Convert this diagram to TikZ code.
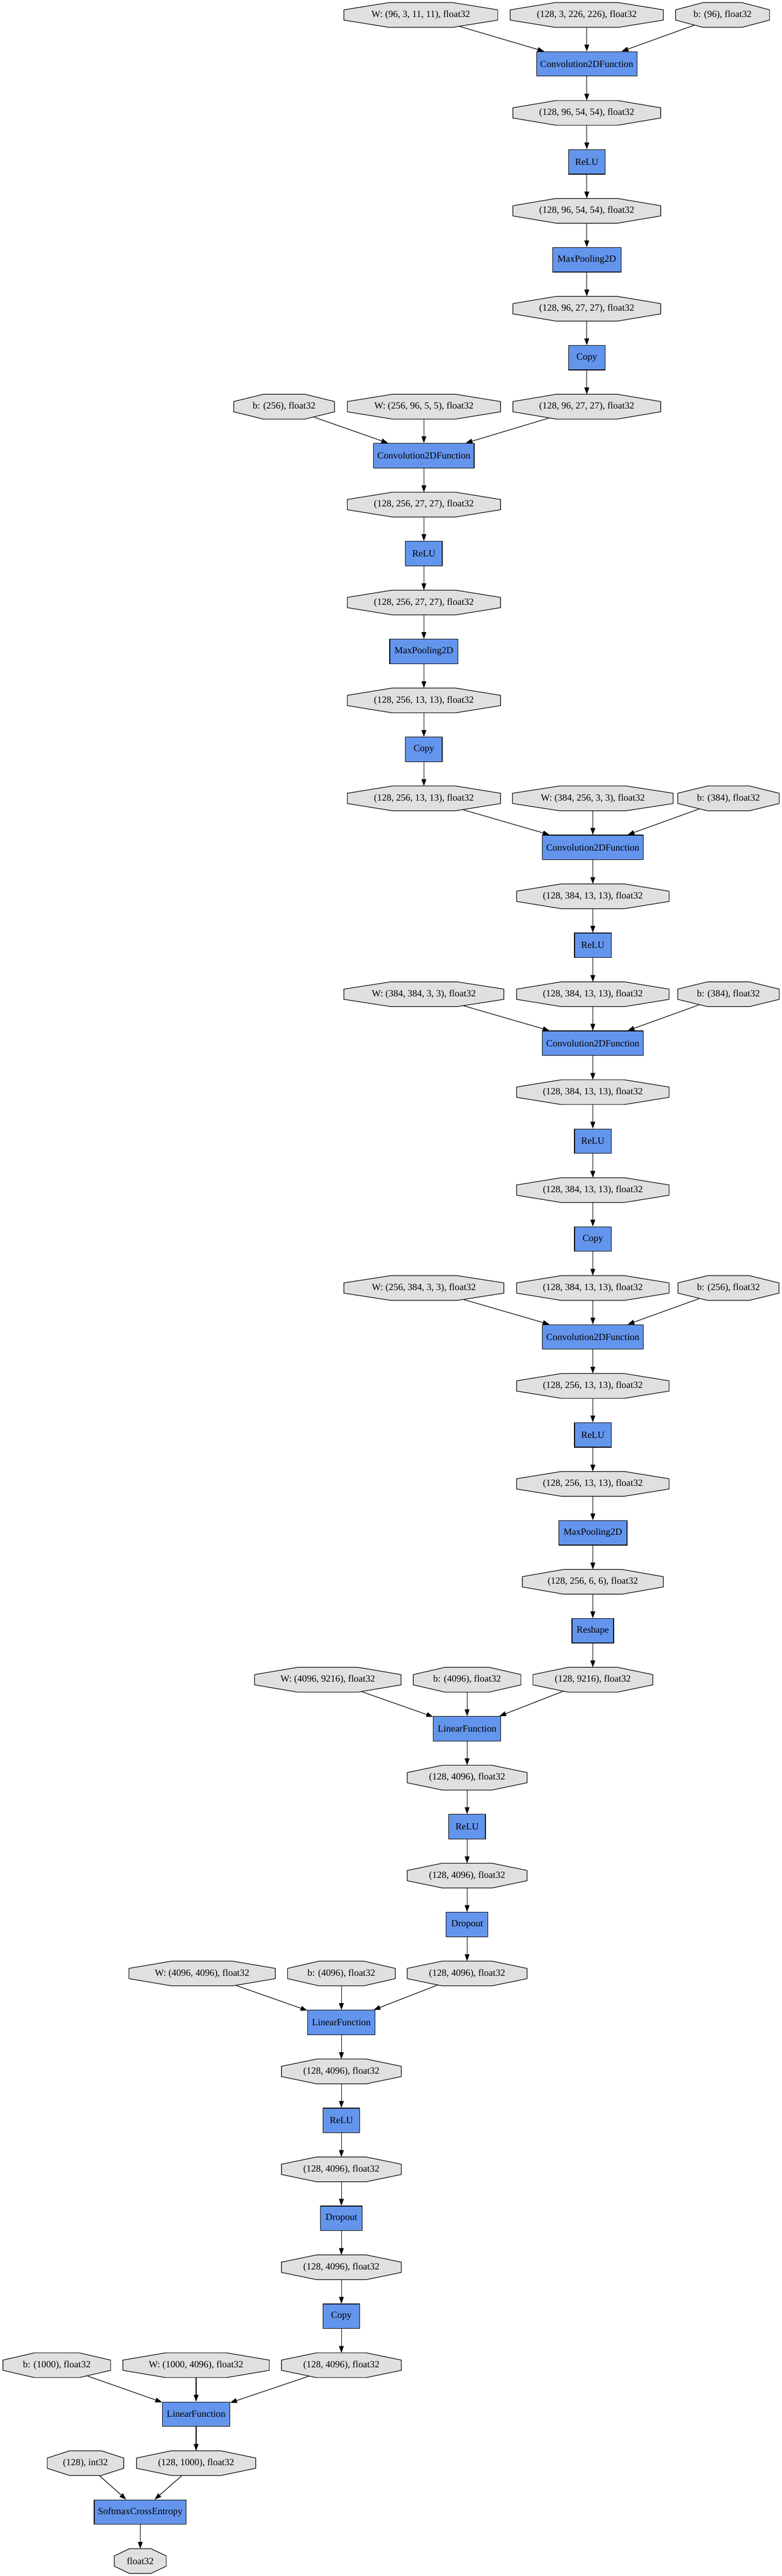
\documentclass[tikz,border=0pt]{standalone}
\usepackage{fontspec}
\setmainfont{Liberation Serif}
\usetikzlibrary{arrows.meta,calc}
\pgfdeclarelayer{edges}
\pgfdeclarelayer{octs}
\pgfsetlayers{edges,octs,main}
\definecolor{varfill}{HTML}{E0E0E0}
\definecolor{funfill}{HTML}{6495ED}
\newcommand\Ry[1]{\the\numexpr 22+72*(#1-1)\relax}
\tikzset{
  vt/.style={rectangle, inner sep=0pt, minimum height=36pt, font=\fontsize{14}{16}\selectfont},
  fn/.style={rectangle, draw=black, line width=0.9pt, fill=funfill, inner sep=0pt, minimum height=36pt, font=\fontsize{14}{16}\selectfont},
  octshape/.style={draw=black, line width=0.9pt, fill=varfill},
  arr/.style={draw=black, line width=0.9pt, -{Triangle[length=10pt,width=7pt]}}
}
\begin{document}
\begin{tikzpicture}[x=1pt,y=-1pt]
\useasboundingbox (0,0) rectangle (1150.6,3788);
% rank 1-8
\node[vt, minimum width=226pt] (w1) at (619.3,\Ry{1}) {W: (96, 3, 11, 11), float32};
\node[vt, minimum width=225pt] (x0) at (863.5,\Ry{1}) {(128, 3, 226, 226), float32};
\node[vt, minimum width=138pt] (b1) at (1063.3,\Ry{1}) {b: (96), float32};
\node[fn, minimum width=148pt] (c1) at (863.5,\Ry{2}) {Convolution2DFunction};
\node[vt, minimum width=217pt] (v1) at (863.5,\Ry{3}) {(128, 96, 54, 54), float32};
\node[fn, minimum width=54pt] (r1) at (863.5,\Ry{4}) {ReLU};
\node[vt, minimum width=217pt] (v2) at (863.5,\Ry{5}) {(128, 96, 54, 54), float32};
\node[fn, minimum width=100.6pt] (m1) at (863.5,\Ry{6}) {MaxPooling2D};
\node[vt, minimum width=217pt] (v3) at (863.5,\Ry{7}) {(128, 96, 27, 27), float32};
\node[fn, minimum width=54pt] (k1) at (863.5,\Ry{8}) {Copy};
% rank 9-16
\node[vt, minimum width=148pt] (b2) at (418.1,\Ry{9}) {b: (256), float32};
\node[vt, minimum width=225pt] (w2) at (623.8,\Ry{9}) {W: (256, 96, 5, 5), float32};
\node[vt, minimum width=217pt] (v4) at (863.5,\Ry{9}) {(128, 96, 27, 27), float32};
\node[fn, minimum width=148pt] (c2) at (623.8,\Ry{10}) {Convolution2DFunction};
\node[vt, minimum width=225pt] (v5) at (623.8,\Ry{11}) {(128, 256, 27, 27), float32};
\node[fn, minimum width=54pt] (r2) at (623.8,\Ry{12}) {ReLU};
\node[vt, minimum width=225pt] (v6) at (623.8,\Ry{13}) {(128, 256, 27, 27), float32};
\node[fn, minimum width=100.6pt] (m2) at (623.8,\Ry{14}) {MaxPooling2D};
\node[vt, minimum width=225pt] (v7) at (623.8,\Ry{15}) {(128, 256, 13, 13), float32};
\node[fn, minimum width=54pt] (k2) at (623.8,\Ry{16}) {Copy};
% rank 17-20
\node[vt, minimum width=225pt] (v8) at (623.8,\Ry{17}) {(128, 256, 13, 13), float32};
\node[vt, minimum width=236pt] (w3) at (872.4,\Ry{17}) {W: (384, 256, 3, 3), float32};
\node[vt, minimum width=149pt] (b3) at (1072,\Ry{17}) {b: (384), float32};
\node[fn, minimum width=148pt] (c3) at (872.4,\Ry{18}) {Convolution2DFunction};
\node[vt, minimum width=224pt] (v9) at (872.4,\Ry{19}) {(128, 384, 13, 13), float32};
\node[fn, minimum width=54pt] (r3) at (872.4,\Ry{20}) {ReLU};
% rank 21-26
\node[vt, minimum width=235pt] (w4) at (623.8,\Ry{21}) {W: (384, 384, 3, 3), float32};
\node[vt, minimum width=224pt] (v10) at (872.4,\Ry{21}) {(128, 384, 13, 13), float32};
\node[vt, minimum width=149pt] (b4) at (1072,\Ry{21}) {b: (384), float32};
\node[fn, minimum width=148pt] (c4) at (872.4,\Ry{22}) {Convolution2DFunction};
\node[vt, minimum width=224pt] (v11) at (872.4,\Ry{23}) {(128, 384, 13, 13), float32};
\node[fn, minimum width=54pt] (r4) at (872.4,\Ry{24}) {ReLU};
\node[vt, minimum width=224pt] (v12) at (872.4,\Ry{25}) {(128, 384, 13, 13), float32};
\node[fn, minimum width=54pt] (k3) at (872.4,\Ry{26}) {Copy};
% rank 27-34
\node[vt, minimum width=235pt] (w5) at (623.8,\Ry{27}) {W: (256, 384, 3, 3), float32};
\node[vt, minimum width=224pt] (v13) at (872.4,\Ry{27}) {(128, 384, 13, 13), float32};
\node[vt, minimum width=148pt] (b5) at (1072,\Ry{27}) {b: (256), float32};
\node[fn, minimum width=148pt] (c5) at (872.4,\Ry{28}) {Convolution2DFunction};
\node[vt, minimum width=224pt] (v14) at (872.4,\Ry{29}) {(128, 256, 13, 13), float32};
\node[fn, minimum width=54pt] (r5) at (872.4,\Ry{30}) {ReLU};
\node[vt, minimum width=224pt] (v15) at (872.4,\Ry{31}) {(128, 256, 13, 13), float32};
\node[fn, minimum width=100.6pt] (m3) at (872.4,\Ry{32}) {MaxPooling2D};
\node[vt, minimum width=207pt] (v16) at (872.4,\Ry{33}) {(128, 256, 6, 6), float32};
\node[fn, minimum width=61.4pt] (rs) at (872.4,\Ry{34}) {Reshape};
% rank 35-40
\node[vt, minimum width=215pt] (w6) at (482.4,\Ry{35}) {W: (4096, 9216), float32};
\node[vt, minimum width=158pt] (b6) at (687.4,\Ry{35}) {b: (4096), float32};
\node[vt, minimum width=176pt] (v17) at (872.4,\Ry{35}) {(128, 9216), float32};
\node[fn, minimum width=99.2pt] (l1) at (687.4,\Ry{36}) {LinearFunction};
\node[vt, minimum width=176pt] (v18) at (687.4,\Ry{37}) {(128, 4096), float32};
\node[fn, minimum width=54pt] (r6) at (687.4,\Ry{38}) {ReLU};
\node[vt, minimum width=176pt] (v19) at (687.4,\Ry{39}) {(128, 4096), float32};
\node[fn, minimum width=61.4pt] (d1) at (687.4,\Ry{40}) {Dropout};
% rank 41-48
\node[vt, minimum width=215pt] (w7) at (297.4,\Ry{41}) {W: (4096, 4096), float32};
\node[vt, minimum width=158pt] (b7) at (502.4,\Ry{41}) {b: (4096), float32};
\node[vt, minimum width=176pt] (v20) at (687.4,\Ry{41}) {(128, 4096), float32};
\node[fn, minimum width=99.2pt] (l2) at (502.4,\Ry{42}) {LinearFunction};
\node[vt, minimum width=176pt] (v21) at (502.4,\Ry{43}) {(128, 4096), float32};
\node[fn, minimum width=54pt] (r7) at (502.4,\Ry{44}) {ReLU};
\node[vt, minimum width=176pt] (v22) at (502.4,\Ry{45}) {(128, 4096), float32};
\node[fn, minimum width=61.4pt] (d2) at (502.4,\Ry{46}) {Dropout};
\node[vt, minimum width=176pt] (v23) at (502.4,\Ry{47}) {(128, 4096), float32};
\node[fn, minimum width=54pt] (k4) at (502.4,\Ry{48}) {Copy};
% rank 49-53
\node[vt, minimum width=158pt] (b8) at (83.6,\Ry{49}) {b: (1000), float32};
\node[vt, minimum width=215pt] (w8) at (288.6,\Ry{49}) {W: (1000, 4096), float32};
\node[vt, minimum width=176pt] (v24) at (502.4,\Ry{49}) {(128, 4096), float32};
\node[fn, minimum width=99.2pt] (l3) at (288.6,\Ry{50}) {LinearFunction};
\node[vt, minimum width=112pt] (t) at (125.8,\Ry{51}) {(128), int32};
\node[vt, minimum width=175pt] (v25) at (288.6,\Ry{51}) {(128, 1000), float32};
\node[fn, minimum width=135.4pt] (sce) at (206.4,\Ry{52}) {SoftmaxCrossEntropy};
\node[vt, minimum width=76pt] (loss) at (206.4,\Ry{53}) {float32};

\begin{pgfonlayer}{octs}
\foreach \n in {w1,x0,b1,v1,v2,v3,b2,w2,v4,v5,v6,v7,v8,w3,b3,v9,w4,v10,b4,v11,v12,w5,v13,b5,v14,v15,v16,w6,b6,v17,v18,v19,w7,b7,v20,v21,v22,v23,b8,w8,v24,t,v25,loss}{
  \filldraw[octshape] ($(\n.north west)!0.293!(\n.north east)$) -- ($(\n.north east)!0.293!(\n.north west)$)
    -- ($(\n.north east)!0.293!(\n.south east)$) -- ($(\n.south east)!0.293!(\n.north east)$)
    -- ($(\n.south east)!0.293!(\n.south west)$) -- ($(\n.south west)!0.293!(\n.south east)$)
    -- ($(\n.south west)!0.293!(\n.north west)$) -- ($(\n.north west)!0.293!(\n.south west)$) -- cycle;
}
\end{pgfonlayer}

\begin{pgfonlayer}{edges}
\foreach \s/\f in {w1/c1,x0/c1,b1/c1,v3/k1,v1/r1,v2/m1,
  b2/c2,w2/c2,v4/c2,v5/r2,v6/m2,v7/k2,
  v8/c3,w3/c3,b3/c3,v9/r3,
  w4/c4,v10/c4,b4/c4,v11/r4,v12/k3,
  w5/c5,v13/c5,b5/c5,v14/r5,v15/m3,v16/rs,
  w6/l1,b6/l1,v17/l1,v18/r6,v19/d1,
  w7/l2,b7/l2,v20/l2,v21/r7,v22/d2,v23/k4,
  b8/l3,w8/l3,v24/l3,t/sce,v25/sce}{
  \draw[arr] (\s.center) -- (\f);
}
\foreach \f/\o in {c1/v1,r1/v2,m1/v3,k1/v4,c2/v5,r2/v6,m2/v7,k2/v8,c3/v9,r3/v10,
  c4/v11,r4/v12,k3/v13,c5/v14,r5/v15,m3/v16,rs/v17,l1/v18,r6/v19,d1/v20,
  l2/v21,r7/v22,d2/v23,k4/v24,l3/v25,sce/loss}{
  \draw[arr] (\f) -- (\o);
}
\end{pgfonlayer}
\end{tikzpicture}
\end{document}
